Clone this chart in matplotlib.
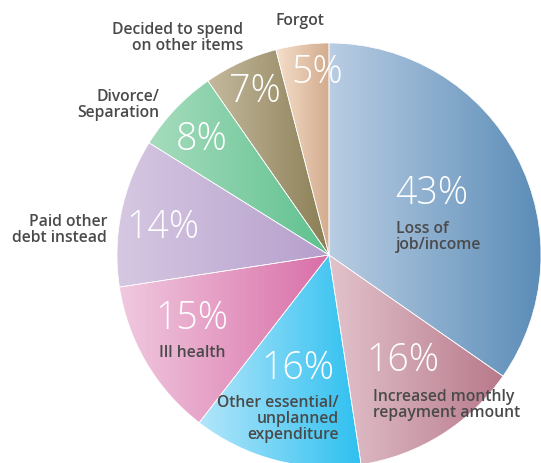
"""Pie chart of reasons for missed repayments, with per-wedge horizontal gradients."""
import matplotlib
matplotlib.use("Agg")
import matplotlib.pyplot as plt
import numpy as np
from matplotlib.colors import LinearSegmentedColormap

categories = ["Loss of\njob/income", "Increased monthly\nrepayment amount",
              "Other essential/\nunplanned\nexpenditure", "Ill health",
              "Paid other\ndebt instead", "Divorce/\nSeparation",
              "Decided to spend\non other items", "Forgot"]
values = [43, 16, 16, 15, 14, 8, 7, 5]
pct_labels = ["43%", "16%", "16%", "15%", "14%", "8%", "7%", "5%"]

LIGHT = ["#b9cde3", "#e2c3cb", "#b3e6fa", "#f0c9df", "#d6c8e2", "#a6dcbd", "#c4b99d", "#f5dfcb"]
DARK = ["#5a8cb7", "#b8798b", "#2ec0f0", "#d96fa8", "#b69fcc", "#5fc18f", "#8a7e55", "#d2ab8d"]
TEXT = "#4a4a4a"

W, H = 541, 463
fig = plt.figure(figsize=(W / 100, H / 100), dpi=100)
ax = fig.add_axes([0, 0, 1, 1])

cx, cy, r = 329, H - 255, 212
wedges, _ = ax.pie(values, center=(cx, cy), radius=r, startangle=90, counterclock=False,
                   wedgeprops=dict(facecolor="none", edgecolor="white", linewidth=0.5))

grad = np.linspace(0, 1, 256).reshape(1, -1)
for wedge, lo, hi in zip(wedges, LIGHT, DARK):
    verts = wedge.get_path().vertices
    x0, x1 = verts[:, 0].min(), verts[:, 0].max()
    y0, y1 = verts[:, 1].min(), verts[:, 1].max()
    cmap = LinearSegmentedColormap.from_list("g", [lo, hi])
    im = ax.imshow(grad, extent=[x0, x1, y0, y1], aspect="auto", cmap=cmap,
                   interpolation="bilinear", zorder=0)
    im.set_clip_path(wedge)

ax.set_xlim(0, W)
ax.set_ylim(0, H)
ax.set_aspect("equal")
ax.axis("off")

pct_font = dict(color="white", fontsize=27, family="Open Sans", fontweight="light",
                ha="center", va="center")
pct_pos = [(432, 194), (403, 361), (298, 369), (192, 319), (163, 228), (202, 140), (255, 92), (317, 73)]
for label, (x, y) in zip(pct_labels, pct_pos):
    ax.text(x, H - y, label, **pct_font)

lab_font = dict(color=TEXT, fontsize=11.3, family="Open Sans", fontweight="semibold",
                va="center", linespacing=1.0)
# (x, y, ha) in pixel coords measured from the top-left
lab_pos = [(396, 237, "left"), (373, 405, "left"), (339, 419, "right"), (192, 353, "center"),
           (107, 230, "right"), (159, 105, "right"), (243, 38, "right"), (300, 21, "center")]
for label, (x, y, ha) in zip(categories, lab_pos):
    ax.text(x, H - y, label, ha=ha, multialignment=ha, **lab_font)

fig.savefig("out.png", dpi=100)
